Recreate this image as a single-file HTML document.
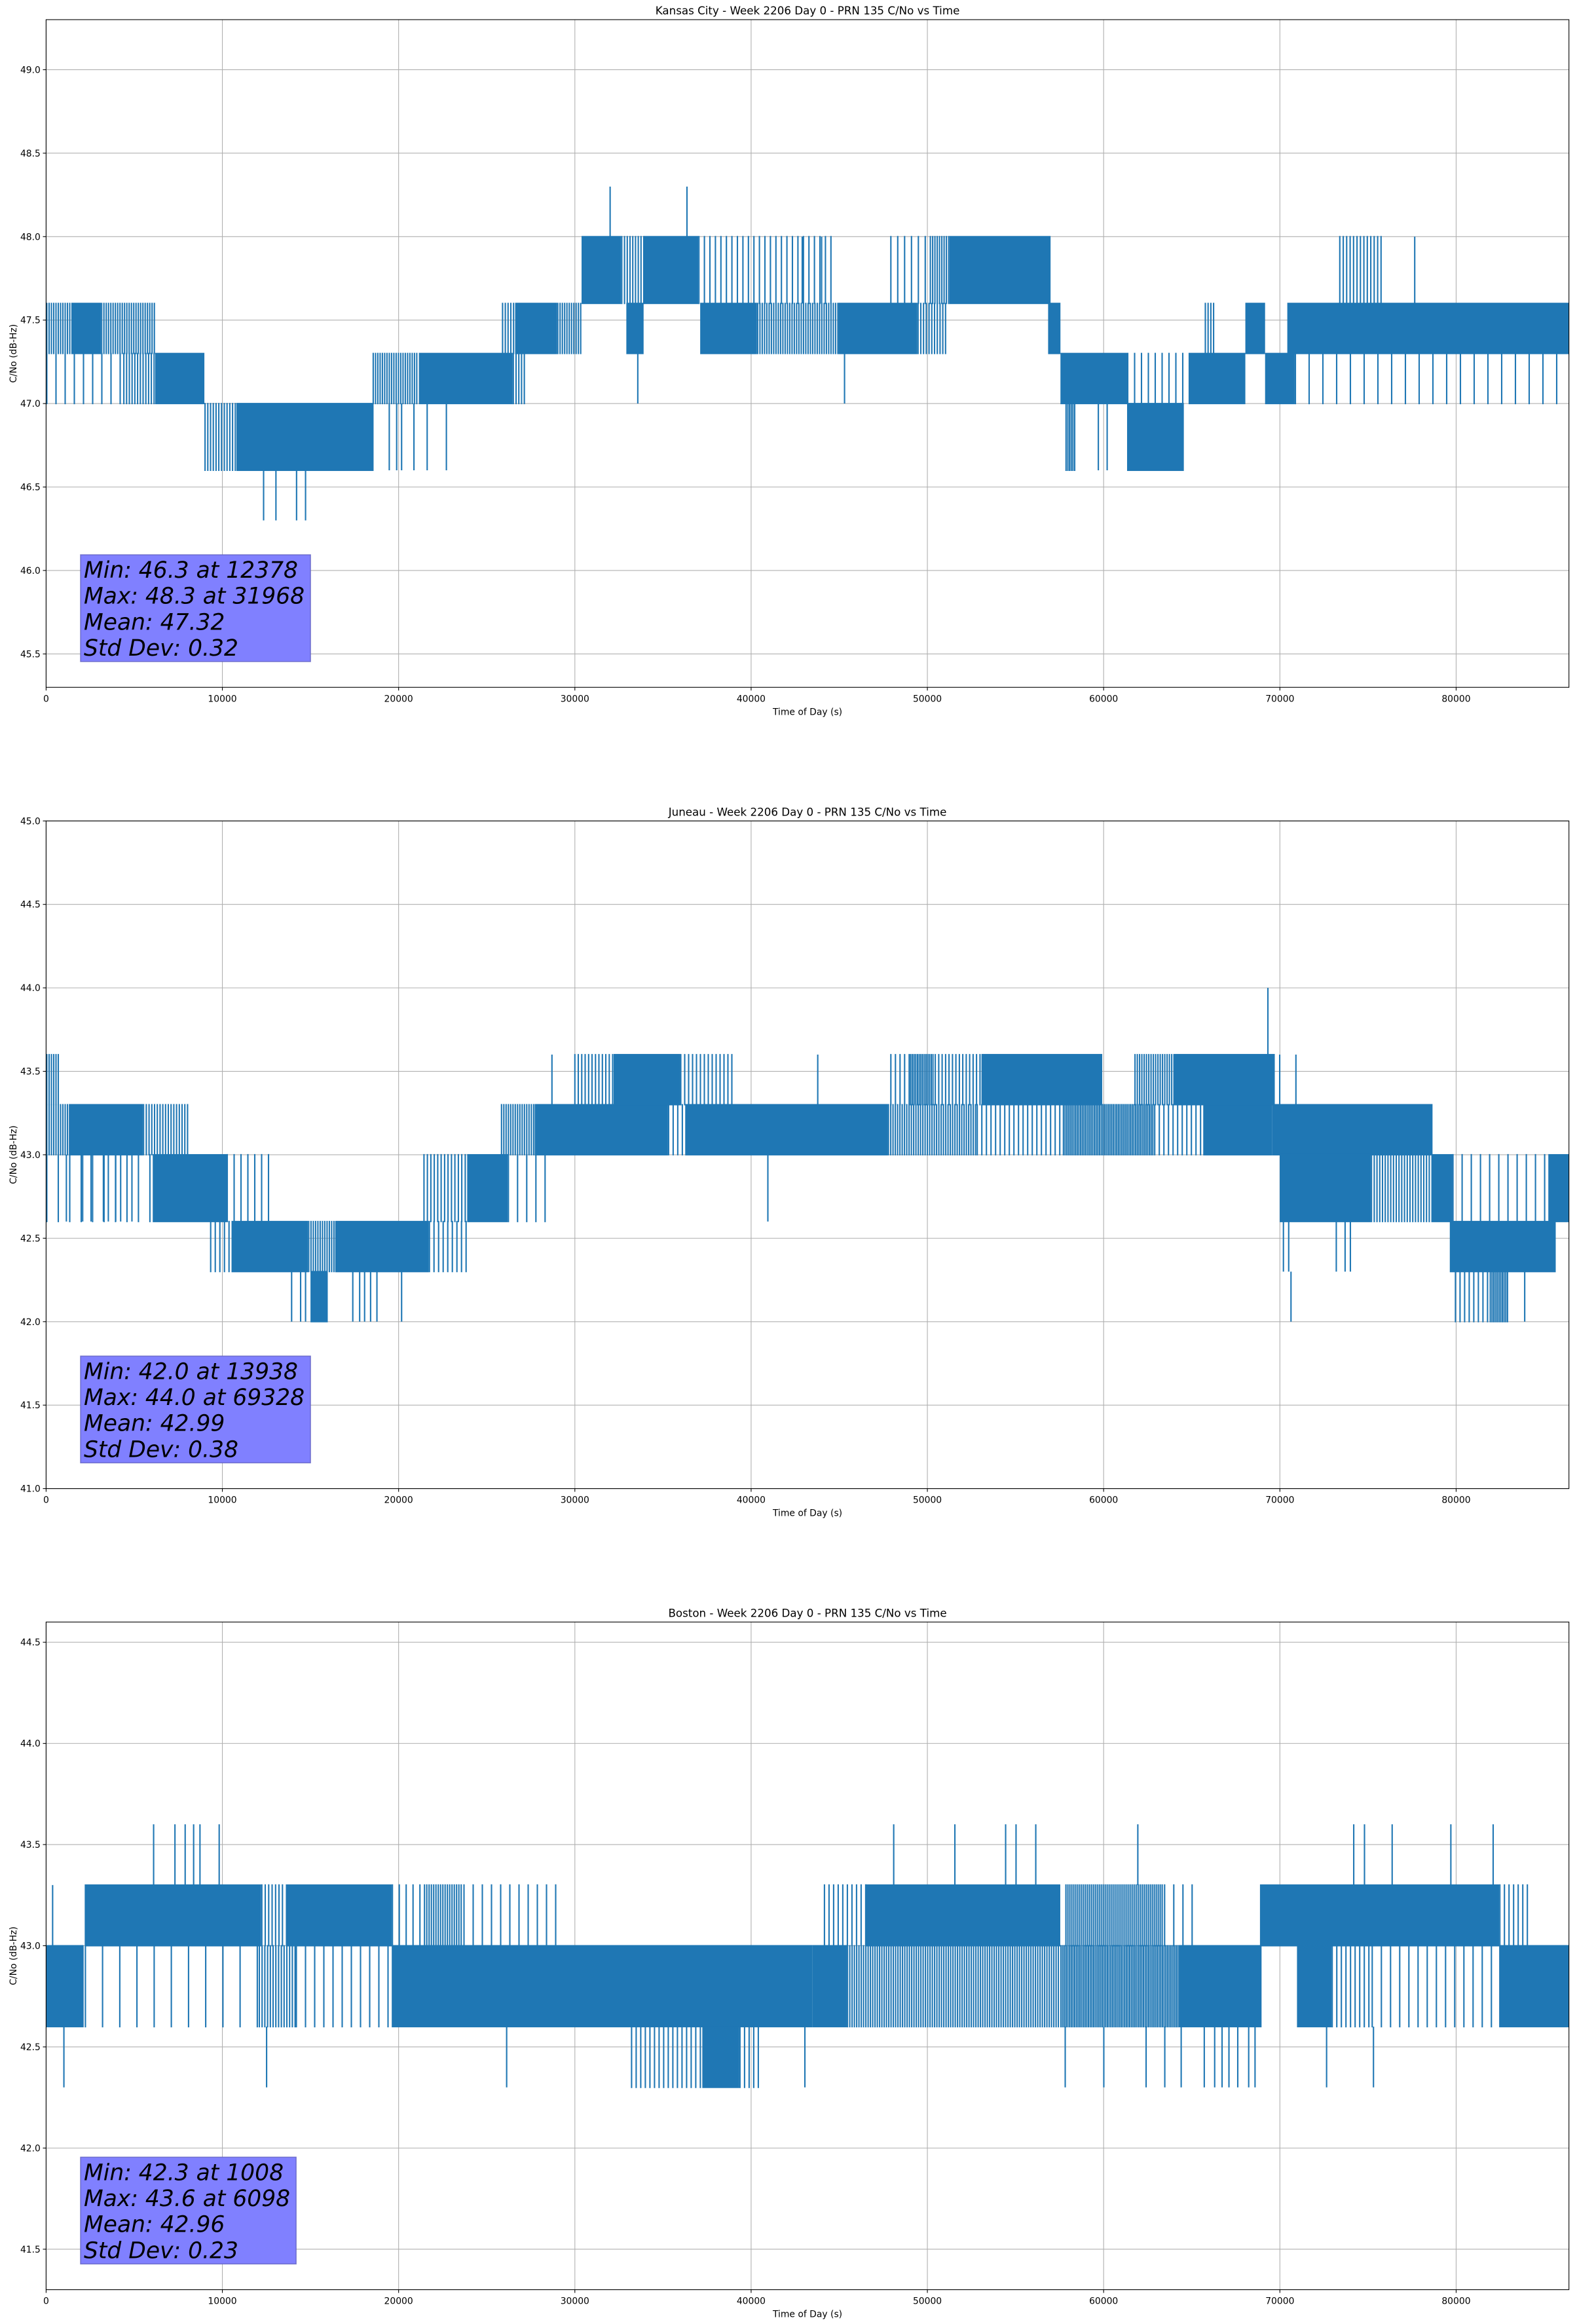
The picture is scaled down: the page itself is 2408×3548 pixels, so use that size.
<!DOCTYPE html>
<html><head><meta charset="utf-8">
<style>
html,body{margin:0;padding:0;background:#fff;}
svg{display:block;font-family:"DejaVu Sans","Liberation Sans",sans-serif;}
</style></head>
<body>
<svg id="fig" xmlns="http://www.w3.org/2000/svg" width="2408" height="3548" viewBox="0 0 2408 3548"></svg>
<script>
// ---------- shared axis data ----------
const xTicks = [0,10000,20000,30000,40000,50000,60000,70000,80000];
const xMax = 86400;

// ---------- Kansas City ----------
const kcTitle = "Kansas City - Week 2206 Day 0 - PRN 135 C/No vs Time";
const kcYTicks = [45.5,46.0,46.5,47.0,47.5,48.0,48.5,49.0];
const kcStats = ["Min: 46.3 at 12378","Max: 48.3 at 31968","Mean: 47.32","Std Dev: 0.32"];
const kcBandStart = [0,1430,3110,0,4370,6190,8980,10800,18520,21150,26470,25860,26610,28990,30380,32620,32920,33920,37000,37110,40330,44960,49430,47890,50130,51250,56850,57550,57830,61330,61330,64820,65730,68040,69160,70420,70840,73360];
const kcBandEnd   = [1430,3110,6200,4370,6190,8980,10800,18580,21150,26470,27170,26610,28990,30380,32620,33920,33900,37000,44820,40330,44960,49430,51110,50130,51250,56990,57550,61330,58390,64550,64820,68040,66290,69160,70840,86400,86400,75880];
const kcBandLo    = [47.3,47.3,47.3,47.0,47.0,47.0,46.6,46.6,47.0,47.0,47.0,47.3,47.3,47.3,47.6,47.6,47.3,47.6,47.6,47.3,47.3,47.3,47.3,47.6,47.6,47.6,47.3,47.0,46.6,46.6,47.0,47.0,47.3,47.3,47.0,47.3,47.0,47.6];
const kcBandHi    = [47.6,47.6,47.6,47.3,47.3,47.3,47.0,47.0,47.3,47.3,47.3,47.6,47.6,47.6,48.0,48.0,47.6,48.0,48.0,47.6,47.6,47.6,47.6,48.0,48.0,48.0,47.6,47.3,47.0,47.0,47.3,47.3,47.6,47.6,47.3,47.6,47.3,48.0];
const kcBandDens  = [0.6,0.95,0.6,0.15,0.5,0.95,0.5,0.97,0.6,0.95,0.5,0.5,0.95,0.6,0.85,0.5,0.9,0.97,0.25,0.95,0.6,0.95,0.5,0.2,0.6,0.95,0.95,0.9,0.8,0.97,0.2,0.9,0.5,0.9,0.9,0.9,0.1,0.4];
const kcSpikeT  = [12340,13040,14210,14720,32000,36360,33570,45300,77650,19470,19890,20170,20870,21620,22710,44000,42900,59700,60200];
const kcSpikeLo = [46.3,46.3,46.3,46.3,48.0,48.0,47.0,47.0,47.6,46.6,46.6,46.6,46.6,46.6,46.6,47.6,47.6,46.6,46.6];
const kcSpikeHi = [46.6,46.6,46.6,46.6,48.3,48.3,47.3,47.3,48.0,47.0,47.0,47.0,47.0,47.0,47.0,48.0,48.0,47.0,47.0];

// ---------- Juneau ----------
const juTitle = "Juneau - Week 2206 Day 0 - PRN 135 C/No vs Time";
const juYTicks = [41.0,41.5,42.0,42.5,43.0,43.5,44.0,44.5,45.0];
const juStats = ["Min: 42.0 at 13938","Max: 44.0 at 69328","Mean: 42.99","Std Dev: 0.38"];
const juBandStart = [0,0,1290,5490,0,6050,10240,9300,10520,14860,16400,21710,15000,21400,23890,26190,25800,27720,35280,36260,29960,32200,35970,47750,52790,57680,62860,65650,69570,47890,49010,50410,53070,61740,64000,69990,75160,78660,79780,85230,79640,79920,81900];
const juBandEnd   = [790,1290,5490,8140,6050,10240,13000,10520,14860,16400,21710,23900,15980,23890,26190,28560,27720,35280,36260,47750,32200,35970,39050,52790,57680,62860,65650,69570,78660,49010,50410,53070,59920,64000,69710,75160,78660,79780,85230,86400,85650,81900,83000];
const juBandLo    = [43.3,43.0,43.0,43.0,42.6,42.6,42.6,42.3,42.3,42.3,42.3,42.3,42.0,42.6,42.6,42.6,43.0,43.0,43.0,43.0,43.3,43.3,43.3,43.0,43.0,43.0,43.0,43.0,43.0,43.3,43.3,43.3,43.3,43.3,43.3,42.6,42.6,42.6,42.6,42.6,42.3,42.0,42.0];
const juBandHi    = [43.6,43.3,43.3,43.3,43.0,43.0,43.0,42.6,42.6,42.6,42.6,42.6,42.3,43.0,43.0,43.0,43.3,43.3,43.3,43.3,43.6,43.6,43.6,43.3,43.3,43.3,43.3,43.3,43.3,43.6,43.6,43.6,43.6,43.6,43.6,43.0,43.0,43.0,43.0,43.0,42.6,42.3,42.3];
const juBandDens  = [0.6,0.6,0.95,0.5,0.12,0.9,0.2,0.3,0.95,0.6,0.95,0.3,0.97,0.4,0.95,0.15,0.6,0.95,0.3,0.95,0.4,0.85,0.35,0.6,0.3,0.8,0.3,0.85,0.85,0.3,0.8,0.4,0.85,0.6,0.85,0.9,0.5,0.95,0.15,0.9,0.95,0.3,0.8];
const juSpikeT  = [13930,14440,14720,17400,17790,18070,18410,18770,20170,70630,83890,1150,2075,2550,3250,3530,3950,4230,4870,28700,43780,69990,70910,69320,40950,70200,70500,73200,73700,74000];
const juSpikeLo = [42.0,42.0,42.0,42.0,42.0,42.0,42.0,42.0,42.0,42.0,42.0,42.6,42.6,42.6,42.6,42.6,42.6,42.6,42.6,43.3,43.3,43.3,43.3,43.6,42.6,42.3,42.3,42.3,42.3,42.3];
const juSpikeHi = [42.3,42.3,42.3,42.3,42.3,42.3,42.3,42.3,42.3,42.3,42.3,43.0,43.0,43.0,43.0,43.0,43.0,43.0,43.0,43.6,43.6,43.6,43.6,44.0,43.0,42.6,42.6,42.6,42.6,42.6];

// ---------- Boston ----------
const boTitle = "Boston - Week 2206 Day 0 - PRN 135 C/No vs Time";
const boYTicks = [41.5,42.0,42.5,43.0,43.5,44.0,44.5];
const boStats = ["Min: 42.3 at 1008","Max: 43.6 at 6098","Mean: 42.96","Std Dev: 0.23"];
const boBandStart = [0,2190,2190,12060,12200,13600,14160,19610,19610,21430,23670,33180,37230,39330,43470,45430,44120,46500,57540,57820,63420,64260,68870,70970,72930,75200,82440,82440];
const boBandEnd   = [2130,12200,12000,14160,13600,19610,19610,43470,21430,23670,29000,37230,39330,40590,45430,57540,46500,57540,64260,63420,65500,68960,82440,72930,75200,82440,86400,84100];
const boBandLo    = [42.6,43.0,42.6,42.6,43.0,43.0,42.6,42.6,43.0,43.0,43.0,42.3,42.3,42.3,42.6,42.6,43.0,43.0,42.6,43.0,43.0,42.6,43.0,42.6,42.6,42.6,42.6,43.0];
const boBandHi    = [43.0,43.3,43.0,43.0,43.3,43.3,43.0,43.0,43.3,43.3,43.3,42.6,42.6,42.6,43.0,43.0,43.3,43.3,43.0,43.3,43.3,43.0,43.3,43.0,43.0,43.0,43.0,43.3];
const boBandDens  = [0.95,0.9,0.08,0.5,0.4,0.9,0.15,0.9,0.2,0.6,0.15,0.3,0.95,0.3,0.95,0.6,0.3,0.85,0.8,0.7,0.15,0.97,0.95,0.95,0.3,0.15,0.9,0.3];
const boSpikeT  = [6100,7310,7890,8370,8730,9820,48090,51560,54440,55030,56150,61940,74190,74800,76370,79700,82100,370,1010,12510,26130,43050,57820,60010,62410,63470,64400,65710,66300,66720,67110,67610,68230,68590,72650,75310];
const boSpikeLo = [43.3,43.3,43.3,43.3,43.3,43.3,43.3,43.3,43.3,43.3,43.3,43.3,43.3,43.3,43.3,43.3,43.3,43.0,42.3,42.3,42.3,42.3,42.3,42.3,42.3,42.3,42.3,42.3,42.3,42.3,42.3,42.3,42.3,42.3,42.3,42.3];
const boSpikeHi = [43.6,43.6,43.6,43.6,43.6,43.6,43.6,43.6,43.6,43.6,43.6,43.6,43.6,43.6,43.6,43.6,43.6,43.3,42.6,42.6,42.6,42.6,42.6,42.6,42.6,42.6,42.6,42.6,42.6,42.6,42.6,42.6,42.6,42.6,42.6,42.6];

const panels = [
  {key:'kansas-city', title:kcTitle, top:30, yMin:45.3, yMax:49.3, yTicks:kcYTicks, stats:kcStats,
   bs:kcBandStart, be:kcBandEnd, bl:kcBandLo, bh:kcBandHi, bd:kcBandDens, st:kcSpikeT, sl:kcSpikeLo, sh:kcSpikeHi},
  {key:'juneau', title:juTitle, top:1253.3, yMin:41.0, yMax:45.0, yTicks:juYTicks, stats:juStats,
   bs:juBandStart, be:juBandEnd, bl:juBandLo, bh:juBandHi, bd:juBandDens, st:juSpikeT, sl:juSpikeLo, sh:juSpikeHi},
  {key:'boston', title:boTitle, top:2476.3, yMin:41.3, yMax:44.6, yTicks:boYTicks, stats:boStats,
   bs:boBandStart, be:boBandEnd, bl:boBandLo, bh:boBandHi, bd:boBandDens, st:boSpikeT, sl:boSpikeLo, sh:boSpikeHi}
];

const NS = 'http://www.w3.org/2000/svg';
const fig = document.getElementById('fig');
const L = 70.4, R = 2395.7, H = 1019.3;
const BLUE = '#1f77b4';

function mk(tag, attrs, parent){
  const e = document.createElementNS(NS, tag);
  for (const k in attrs) e.setAttribute(k, attrs[k]);
  parent.appendChild(e);
  return e;
}

panels.forEach(p => {
  const T = p.top, B = p.top + H;
  const xs = t => L + t / xMax * (R - L);
  const ys = v => B - (v - p.yMin) / (p.yMax - p.yMin) * H;

  const g = mk('g', {}, fig);
  
  

  // grid
  const grid = mk('g', {stroke:'#b0b0b0', 'stroke-width':'1.1'}, g);
  
  
  xTicks.forEach(t => mk('line', {x1:xs(t), x2:xs(t), y1:T, y2:B}, grid));
  p.yTicks.forEach(v => mk('line', {x1:L, x2:R, y1:ys(v), y2:ys(v)}, grid));

  // series
  const ser = mk('g', {fill:BLUE}, g);
  
  
  for (let i = 0; i < p.bs.length; i++) {
    const x0 = xs(p.bs[i]), x1 = xs(p.be[i]);
    const y0 = ys(p.bh[i]) - 1, y1 = ys(p.bl[i]) + 1;
    const d = p.bd[i];
    if (d >= 0.85) {
      const r = mk('rect', {x:x0, y:y0, width:Math.max(1, x1 - x0), height:y1 - y0}, ser);
      
      
    } else {
      // sparse region drawn as discrete vertical excursions
      const lw = 2.1;
      const step = lw / Math.max(d, 0.03);
      let path = '';
      for (let x = x0 + lw / 2; x < x1; x += step) {
        path += 'M' + x.toFixed(1) + ' ' + y0.toFixed(1) + 'V' + y1.toFixed(1);
      }
      if (path) {
        const pth = mk('path', {d:path, stroke:BLUE, 'stroke-width':lw, fill:'none'}, ser);
        
        
      }
    }
  }
  for (let i = 0; i < p.st.length; i++) {
    const l = mk('line', {x1:xs(p.st[i]), x2:xs(p.st[i]), y1:ys(p.sl[i]), y2:ys(p.sh[i]), stroke:BLUE, 'stroke-width':'2.1'}, ser);
    
    
  }

  // frame
  const fr = mk('rect', {x:L, y:T, width:R - L, height:H, fill:'none', stroke:'#000', 'stroke-width':'1.1'}, g);
  
  

  // ticks & labels
  const xt = mk('g', {}, g);
  
  
  xTicks.forEach(t => {
    mk('line', {x1:xs(t), x2:xs(t), y1:B, y2:B + 4.9, stroke:'#000', 'stroke-width':'1.1'}, xt);
    const tx = mk('text', {x:xs(t), y:B + 22, 'font-size':'13.9', 'text-anchor':'middle', fill:'#000'}, xt);
    tx.textContent = String(t);
    
    
  });
  const yt = mk('g', {}, g);
  
  
  p.yTicks.forEach(v => {
    mk('line', {x1:L - 4.9, x2:L, y1:ys(v), y2:ys(v), stroke:'#000', 'stroke-width':'1.1'}, yt);
    const tx = mk('text', {x:L - 8.5, y:ys(v) + 5, 'font-size':'13.9', 'text-anchor':'end', fill:'#000'}, yt);
    tx.textContent = v.toFixed(1);
    
    
  });

  const title = mk('text', {x:(L + R) / 2, y:T - 8, 'font-size':'16.7', 'text-anchor':'middle', fill:'#000'}, g);
  title.textContent = p.title;
  
  

  const xl = mk('text', {x:(L + R) / 2, y:B + 42, 'font-size':'13.9', 'text-anchor':'middle', fill:'#000'}, g);
  xl.textContent = 'Time of Day (s)';
  
  

  const cy = (T + B) / 2;
  const yl = mk('text', {x:20, y:cy, 'font-size':'13.9', 'text-anchor':'middle', fill:'#000', transform:'rotate(-90 20 ' + cy + ') translate(0 5)'}, g);
  yl.textContent = 'C/No (dB-Hz)';
  
  

  // stats box
  const sg = mk('g', {}, g);
  
  
  const bx = 123, by = T + 817;
  const box = mk('rect', {x:bx, y:by, width:350, height:163, fill:'#8080ff', stroke:'#6060c0', 'stroke-opacity':'0.8', 'stroke-width':'1.5'}, sg);
  let maxW = 0;
  p.stats.forEach((s, i) => {
    const t = mk('text', {x:bx + 5, y:by + 35 + i * 39.7, 'font-size':'34.5', 'font-style':'italic', fill:'#000'}, sg);
    t.textContent = s;
    
    
    try { maxW = Math.max(maxW, t.getComputedTextLength()); } catch(e) {}
  });
  if (maxW > 0) box.setAttribute('width', maxW + 14);
});
</script>
</body></html>
